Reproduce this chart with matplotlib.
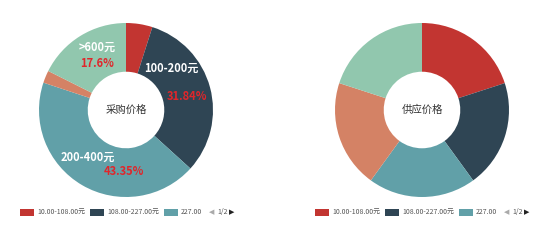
import matplotlib
matplotlib.use("Agg")
import matplotlib.pyplot as plt
from matplotlib.patches import Rectangle, Polygon

plt.rcParams['font.family'] = ['Noto Sans CJK SC', 'DejaVu Sans']

colors = ['#c23531', '#2f4554', '#61a0a8', '#d48265', '#91c7ae']

# Left donut: purchase price shares (clockwise from top)
buy_names = ['10.00-108.00元', '108.00-227.00元', '227.00', '第四档', '第五档']
buy_values = [4.9, 31.84, 43.35, 2.31, 17.6]
# Right donut: supply price shares
supply_values = [20, 20, 20, 20, 20]

legend_labels = ['10.00-108.00元', '108.00-227.00元', '227.00']

# annotations on the left donut: (range label, percentage, position of range label)
ann_ranges = ['>600元', '100-200元', '200-400元']
ann_pcts = ['17.6%', '31.84%', '43.35%']

W, H = 548, 242
fig = plt.figure(figsize=(W / 100, H / 100), dpi=100)
fig.patch.set_facecolor('white')

R = 87  # outer radius in px
def make_ax(cx, cy):
    return fig.add_axes([(cx - R) / W, (H - cy - R) / H, 2 * R / W, 2 * R / H])

ax1 = make_ax(126, 110)
ax2 = make_ax(422, 110)

for ax, vals, title in [(ax1, buy_values, '采购价格'), (ax2, supply_values, '供应价格')]:
    ax.pie(vals, colors=colors, startangle=90, counterclock=False, radius=1,
           wedgeprops=dict(width=0.56, edgecolor='none'))
    ax.set_xlim(-1, 1)
    ax.set_ylim(-1, 1)
    ax.set_aspect('equal')
    ax.axis('off')
    ax.text(0, 0, title, ha='center', va='center', fontsize=7.5, color='#333333')

# annotation positions in the left donut's data units
range_pos = [(-0.33, 0.72), (0.52, 0.48), (-0.44, -0.54)]
pct_pos = [(-0.33, 0.54), (0.70, 0.15), (-0.02, -0.71)]
for txt, (x, y) in zip(ann_ranges, range_pos):
    ax1.text(x, y, txt, ha='center', va='center', fontsize=8, color='white', fontweight='bold')
for txt, (x, y) in zip(ann_pcts, pct_pos):
    ax1.text(x, y, txt, ha='center', va='center', fontsize=8, color='#e0262b', fontweight='bold')

# legends
def draw_legend(x0):
    y = 212
    x = x0
    for lab, col in zip(legend_labels, colors):
        fig.patches.append(Rectangle((x / W, (H - y - 3.5) / H), 14 / W, 7 / H,
                                     transform=fig.transFigure, facecolor=col, edgecolor='none'))
        t = fig.text((x + 17) / W, (H - y) / H, lab, ha='left', va='center',
                     fontsize=5, color='#555555')
        fig.canvas.draw()
        bb = t.get_window_extent()
        x = bb.x1 + 5
    fig.text((x + 2) / W, (H - y) / H, '◀', ha='left', va='center', fontsize=5,
             color='#aaaaaa', family='DejaVu Sans')
    fig.text((x + 10) / W, (H - y) / H, '1/2', ha='left', va='center', fontsize=5,
             color='#555555')
    fig.text((x + 22) / W, (H - y) / H, '▶', ha='left', va='center', fontsize=5,
             color='#222222', family='DejaVu Sans')

draw_legend(20)
draw_legend(315)

fig.savefig('out.png', dpi=100, facecolor='white')
